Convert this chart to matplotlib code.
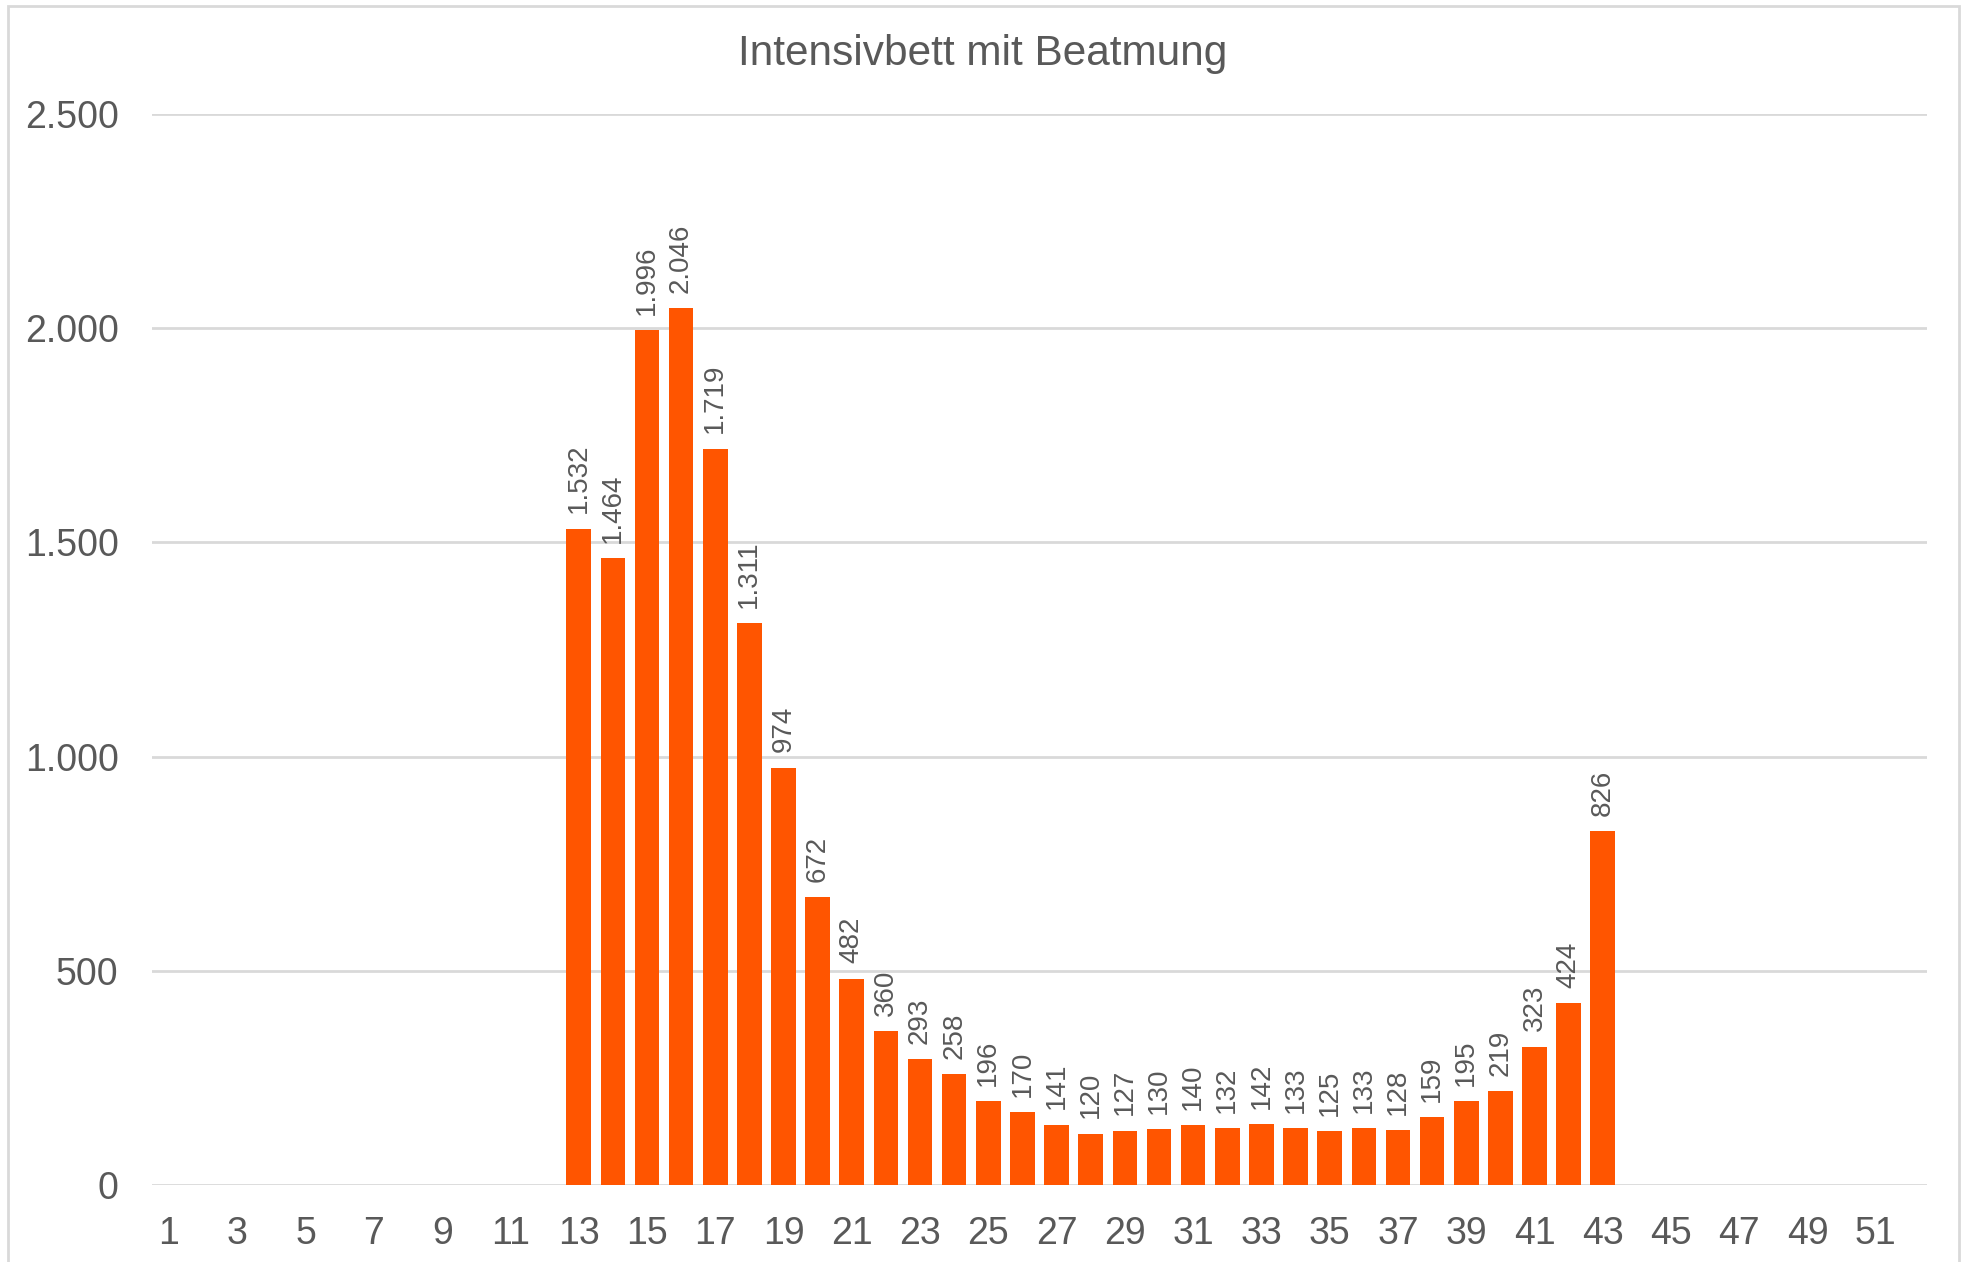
import numpy as np
import matplotlib.pyplot as plt
from matplotlib.patches import Rectangle
from matplotlib.ticker import FuncFormatter

# Kalenderwochen 1..52, Werte nur für KW 13..43
weeks = np.arange(1, 53)
first_week = 13
values = [1532, 1464, 1996, 2046, 1719, 1311, 974, 672, 482, 360, 293, 258,
          196, 170, 141, 120, 127, 130, 140, 132, 142, 133, 125, 133, 128,
          159, 195, 219, 323, 424, 826]
title = "Intensivbett mit Beatmung"

bar_weeks = np.arange(first_week, first_week + len(values))

def de_fmt(v):
    return f"{int(round(v)):,}".replace(",", ".")

plt.rcParams['font.family'] = ['Liberation Sans', 'DejaVu Sans']
text_color = '#595959'
grid_color = '#D9D9D9'
bar_color = '#FF5500'

fig = plt.figure(figsize=(19.66, 12.62), dpi=100)
ax = fig.add_axes([0.0773, 0.061, 0.9029, 0.8487])

ax.bar(bar_weeks, values, width=0.72, color=bar_color, zorder=3)

for x, v in zip(bar_weeks, values):
    ax.annotate(de_fmt(v), (x, v), xytext=(0, 11), textcoords='offset points',
                rotation=90, ha='center', va='bottom', fontsize=20,
                color=text_color)

ax.set_xlim(0.5, 52.5)
ax.set_ylim(0, 2500)
ax.set_xticks(weeks[::2])
ax.set_xticklabels([str(w) for w in weeks[::2]])
ax.set_yticks(np.arange(0, 2501, 500))
ax.yaxis.set_major_formatter(FuncFormatter(lambda v, p: de_fmt(v)))
ax.tick_params(axis='both', length=0, labelsize=27, colors=text_color)
ax.tick_params(axis='y', pad=24)
ax.tick_params(axis='x', pad=22)
ax.grid(axis='y', color=grid_color, linewidth=2, zorder=0)
for s in ax.spines.values():
    s.set_visible(False)

fig.text(0.5, 0.957, title, ha='center', va='center', fontsize=30.5,
         color=text_color)

# Rahmen um das Diagramm
fig.patches.append(Rectangle((8 / 1966, -0.01), 1951 / 1966, 1.01 - 6 / 1262,
                             transform=fig.transFigure, fill=False,
                             edgecolor=grid_color, linewidth=2))

fig.savefig("out.png", dpi=100)
